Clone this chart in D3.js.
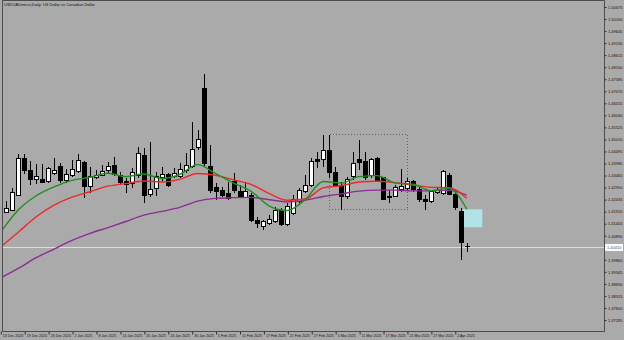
<!DOCTYPE html>
<html>
<head>
<meta charset="utf-8">
<script src="https://cdn.jsdelivr.net/npm/d3@7"></script>
<style>
  html, body { margin: 0; padding: 0; background: #aaaaaa; }
  svg { display: block; }
  text { font-family: "Liberation Sans", Arial, sans-serif; }
</style>
</head>
<body>
<svg id="chart"></svg>
<script>
// USDCADmicro daily bars, 13 Dec 2024 .. 4 Apr 2025
const dates = [
  "2024-12-13", "2024-12-16", "2024-12-17", "2024-12-18", "2024-12-19", "2024-12-20",
  "2024-12-23", "2024-12-24", "2024-12-26", "2024-12-27", "2024-12-30", "2024-12-31",
  "2025-01-02", "2025-01-03", "2025-01-06", "2025-01-07", "2025-01-08", "2025-01-09",
  "2025-01-10", "2025-01-13", "2025-01-14", "2025-01-15", "2025-01-16", "2025-01-17",
  "2025-01-20", "2025-01-21", "2025-01-22", "2025-01-23", "2025-01-24", "2025-01-27",
  "2025-01-28", "2025-01-29", "2025-01-30", "2025-01-31", "2025-02-03", "2025-02-04",
  "2025-02-05", "2025-02-06", "2025-02-07", "2025-02-10", "2025-02-11", "2025-02-12",
  "2025-02-13", "2025-02-14", "2025-02-17", "2025-02-18", "2025-02-19", "2025-02-20",
  "2025-02-21", "2025-02-24", "2025-02-25", "2025-02-26", "2025-02-27", "2025-02-28",
  "2025-03-03", "2025-03-04", "2025-03-05", "2025-03-06", "2025-03-07", "2025-03-10",
  "2025-03-11", "2025-03-12", "2025-03-13", "2025-03-14", "2025-03-17", "2025-03-18",
  "2025-03-19", "2025-03-20", "2025-03-21", "2025-03-24", "2025-03-25", "2025-03-26",
  "2025-03-27", "2025-03-28", "2025-03-31", "2025-04-01", "2025-04-02", "2025-04-03",
  "2025-04-04",
];
const opens = [
  1.4190, 1.4187, 1.4199, 1.4263, 1.4420, 1.4367, 1.4331, 1.4331, 1.4322, 1.4356,
  1.4387, 1.4324, 1.4346, 1.4363, 1.4403, 1.4298, 1.4339, 1.4348, 1.4366, 1.4391,
  1.4346, 1.4320, 1.4313, 1.4348, 1.4431, 1.4267, 1.4292, 1.4339, 1.4353, 1.4341,
  1.4341, 1.4366, 1.4384, 1.4467, 1.4720, 1.4387, 1.4294, 1.4281, 1.4270, 1.4320,
  1.4277, 1.4253, 1.4263, 1.4156, 1.4130, 1.4142, 1.4149, 1.4196, 1.4135, 1.4185,
  1.4234, 1.4277, 1.4306, 1.4416, 1.4416, 1.4453, 1.4358, 1.4306, 1.4255, 1.4341,
  1.4413, 1.4405, 1.4348, 1.4420, 1.4339, 1.4258, 1.4258, 1.4287, 1.4292, 1.4320,
  1.4287, 1.4246, 1.4234, 1.4273, 1.4270, 1.4348, 1.4267, 1.4192, 1.4044,
];
const highs = [
  1.4199, 1.4238, 1.4292, 1.4438, 1.4438, 1.4410, 1.4396, 1.4396, 1.4384, 1.4420,
  1.4401, 1.4373, 1.4413, 1.4438, 1.4410, 1.4384, 1.4370, 1.4391, 1.4405, 1.4424,
  1.4363, 1.4334, 1.4377, 1.4470, 1.4463, 1.4491, 1.4363, 1.4384, 1.4356, 1.4377,
  1.4399, 1.4444, 1.4577, 1.4541, 1.4781, 1.4477, 1.4313, 1.4298, 1.4320, 1.4356,
  1.4306, 1.4313, 1.4270, 1.4170, 1.4156, 1.4177, 1.4213, 1.4206, 1.4227, 1.4263,
  1.4292, 1.4348, 1.4420, 1.4448, 1.4520, 1.4520, 1.4384, 1.4320, 1.4341, 1.4448,
  1.4498, 1.4448, 1.4420, 1.4427, 1.4341, 1.4284, 1.4306, 1.4373, 1.4334, 1.4327,
  1.4298, 1.4263, 1.4284, 1.4298, 1.4370, 1.4358, 1.4284, 1.4206, 1.4056,
];
const lows = [
  1.4169, 1.4185, 1.4196, 1.4260, 1.4352, 1.4306, 1.4310, 1.4315, 1.4316, 1.4348,
  1.4316, 1.4316, 1.4339, 1.4356, 1.4249, 1.4273, 1.4330, 1.4344, 1.4356, 1.4344,
  1.4306, 1.4270, 1.4292, 1.4334, 1.4227, 1.4255, 1.4258, 1.4320, 1.4298, 1.4334,
  1.4334, 1.4356, 1.4377, 1.4456, 1.4384, 1.4270, 1.4242, 1.4255, 1.4242, 1.4270,
  1.4249, 1.4249, 1.4149, 1.4120, 1.4113, 1.4135, 1.4145, 1.4130, 1.4130, 1.4177,
  1.4227, 1.4270, 1.4298, 1.4377, 1.4384, 1.4334, 1.4298, 1.4201, 1.4244, 1.4327,
  1.4370, 1.4327, 1.4334, 1.4320, 1.4242, 1.4230, 1.4253, 1.4277, 1.4284, 1.4277,
  1.4234, 1.4201, 1.4227, 1.4267, 1.4263, 1.4263, 1.4199, 1.3985, 1.4020,
];
const closes = [
  1.4177, 1.4206, 1.4274, 1.4420, 1.4370, 1.4331, 1.4341, 1.4317, 1.4377, 1.4370,
  1.4324, 1.4353, 1.4374, 1.4410, 1.4298, 1.4341, 1.4348, 1.4363, 1.4384, 1.4352,
  1.4317, 1.4310, 1.4360, 1.4441, 1.4263, 1.4287, 1.4341, 1.4352, 1.4306, 1.4356,
  1.4373, 1.4391, 1.4456, 1.4501, 1.4399, 1.4284, 1.4277, 1.4263, 1.4249, 1.4281,
  1.4253, 1.4277, 1.4156, 1.4142, 1.4149, 1.4160, 1.4199, 1.4135, 1.4212, 1.4242,
  1.4284, 1.4303, 1.4405, 1.4407, 1.4453, 1.4358, 1.4306, 1.4258, 1.4330, 1.4399,
  1.4403, 1.4339, 1.4413, 1.4327, 1.4246, 1.4251, 1.4294, 1.4298, 1.4323, 1.4287,
  1.4245, 1.4234, 1.4277, 1.4284, 1.4363, 1.4267, 1.4210, 1.4059, 1.4041,
];

// moving averages, read every 3rd bar
const maIdx = [0, 3, 6, 9, 12, 15, 18, 21, 24, 27, 30, 33, 36, 39, 42, 45, 48, 51, 54, 57, 60, 63, 66, 69, 72, 75, 78];
const maFast = [
  1.4102, 1.4199, 1.4260, 1.4298, 1.4326, 1.4339, 1.4356, 1.4342, 1.4353, 1.4334,
  1.4351, 1.4393, 1.4355, 1.4314, 1.4278, 1.4216, 1.4197, 1.4244, 1.4321, 1.4314,
  1.4342, 1.4346, 1.4315, 1.4309, 1.4282, 1.4291, 1.4203,
];
const maMid = [
  1.4040, 1.4104, 1.4170, 1.4220, 1.4254, 1.4277, 1.4301, 1.4312, 1.4323, 1.4319,
  1.4330, 1.4355, 1.4347, 1.4328, 1.4308, 1.4269, 1.4241, 1.4246, 1.4294, 1.4303,
  1.4319, 1.4322, 1.4316, 1.4306, 1.4296, 1.4295, 1.4249,
];
const maSlow = [
  1.3908, 1.3949, 1.3995, 1.4032, 1.4069, 1.4099, 1.4124, 1.4150, 1.4177, 1.4193,
  1.4210, 1.4237, 1.4249, 1.4252, 1.4253, 1.4243, 1.4234, 1.4241, 1.4257, 1.4268,
  1.4280, 1.4284, 1.4284, 1.4281, 1.4281, 1.4283, 1.4263,
];

const yTickLabels = [
  1.50675, 1.50160, 1.49645, 1.49130, 1.48615, 1.48100, 1.47585, 1.47070, 1.46555,
  1.46040, 1.45525, 1.45010, 1.44495, 1.43980, 1.43465, 1.42950, 1.42435, 1.41920,
  1.41405, 1.40890, 1.40375, 1.39860, 1.39345, 1.38830, 1.38315, 1.37800, 1.37285,
];
const xTickDates = [
  "2024-12-13", "2024-12-19", "2024-12-26", "2025-01-02", "2025-01-08", "2025-01-14",
  "2025-01-20", "2025-01-24", "2025-01-30", "2025-02-05", "2025-02-11", "2025-02-17",
  "2025-02-21", "2025-02-27", "2025-03-05", "2025-03-11", "2025-03-17", "2025-03-21",
  "2025-03-27", "2025-04-02",
];

// chart objects: dotted box (bar index range + prices) and the cyan zone
const boxBars = [55, 68];
const boxPrices = [1.4523, 1.4202];
const zoneBars = [77.3, 80.6];
const zonePrices = [1.4202, 1.4125];

const title = "USDCADmicro,Daily:  US Dollar vs Canadian Dollar";

const width = 624;
const height = 340;
const plotRight = 604;
const plotBottom = 331;

const svg = d3.select("#chart").attr("width", width).attr("height", height);

svg.append("rect").attr("width", width).attr("height", height).attr("fill", "#aaaaaa");

// scales: one bar every ~6px, price axis like the terminal
const x = d3.scaleLinear().domain([0, 100]).range([0.3, 598.3]);
const y = d3.scaleLinear().domain([1.37285, 1.50675]).range([320, 7]);

svg.append("clipPath").attr("id", "plot")
  .append("rect").attr("x", 2).attr("y", 1).attr("width", plotRight - 2).attr("height", plotBottom - 1);

const plot = svg.append("g").attr("clip-path", "url(#plot)");

// dotted box
plot.append("rect")
  .attr("x", Math.round(x(boxBars[0])) + 0.5)
  .attr("y", Math.round(y(boxPrices[0])) + 0.5)
  .attr("width", Math.round(x(boxBars[1]) - x(boxBars[0])))
  .attr("height", Math.round(y(boxPrices[1]) - y(boxPrices[0])))
  .attr("fill", "none")
  .attr("stroke", "#666")
  .attr("stroke-width", 1)
  .attr("shape-rendering", "crispEdges")
  .attr("stroke-dasharray", "1,2");

// cyan zone
plot.append("rect")
  .attr("x", x(zoneBars[0]))
  .attr("y", y(zonePrices[0]))
  .attr("width", x(zoneBars[1]) - x(zoneBars[0]))
  .attr("height", y(zonePrices[1]) - y(zonePrices[0]))
  .attr("fill", "#b0e2e8");

// current price line
const last = closes[closes.length - 1];
const lastY = Math.round(y(last)) + 0.5;
plot.append("line")
  .attr("x1", 2).attr("x2", plotRight)
  .attr("y1", lastY).attr("y2", lastY)
  .attr("stroke", "#dcdcdc").attr("stroke-width", 1);

// candles
const bars = dates.map((d, i) => ({ i, o: opens[i], h: highs[i], l: lows[i], c: closes[i] }));
const candles = plot.append("g").attr("shape-rendering", "crispEdges");
const cg = candles.selectAll("g").data(bars).join("g");

cg.append("line")
  .attr("x1", (d) => Math.round(x(d.i)) + 0.5)
  .attr("x2", (d) => Math.round(x(d.i)) + 0.5)
  .attr("y1", (d) => y(d.h))
  .attr("y2", (d) => y(d.l))
  .attr("stroke", "#000");

cg.append("rect")
  .attr("x", (d) => Math.round(x(d.i)) - 1.5)
  .attr("y", (d) => y(Math.max(d.o, d.c)))
  .attr("width", 4)
  .attr("height", (d) => Math.max(0.5, Math.abs(y(d.o) - y(d.c))))
  .attr("fill", (d) => (d.c >= d.o ? "#ffffff" : "#000000"))
  .attr("stroke", "#000")
  .attr("stroke-width", 1);

// moving averages
const line = d3.line()
  .x((d) => x(d[0]))
  .y((d) => y(d[1]))
  .curve(d3.curveMonotoneX);

const maSeries = [
  { values: maSlow, color: "#8e2c95" },
  { values: maMid, color: "#f02828" },
  { values: maFast, color: "#1f8f1f" },
];
maSeries.forEach((s) => {
  plot.append("path")
    .attr("d", line(maIdx.map((b, k) => [b, s.values[k]])))
    .attr("fill", "none")
    .attr("stroke", s.color)
    .attr("stroke-width", 1.4);
});

// frame
svg.append("path")
  .attr("d", `M2.5,${plotBottom + 0.5} V0.5 H${plotRight + 0.5} V${plotBottom + 0.5} H2.5`)
  .attr("fill", "none")
  .attr("stroke", "#4d4d4d")
  .attr("stroke-width", 1);

// price axis
const fmt = d3.format(".5f");
const yAxis = d3.axisRight(y)
  .tickValues(yTickLabels.filter((v) => Math.abs(y(v) - y(last)) > 6))
  .tickSize(2)
  .tickSizeOuter(0)
  .tickPadding(1.5)
  .tickFormat(fmt);

const ya = svg.append("g")
  .attr("transform", `translate(${plotRight + 0.5},0)`)
  .call(yAxis);
ya.select(".domain").remove();
ya.selectAll("line").attr("stroke", "#333");
ya.selectAll("text").attr("font-size", 4).attr("fill", "#111").attr("font-family", "Liberation Sans, Arial, sans-serif");

// current price label
svg.append("rect")
  .attr("x", plotRight + 1).attr("y", lastY - 3.5)
  .attr("width", 18).attr("height", 7)
  .attr("fill", "#ffffff");
svg.append("text")
  .attr("x", plotRight + 3).attr("y", lastY + 1.5)
  .attr("font-size", 4)
  .attr("fill", "#555")
  .text(fmt(last));

// time axis
const parse = d3.timeParse("%Y-%m-%d");
const dfmt = d3.timeFormat("%-d %b %Y");
const xAxis = d3.axisBottom(x)
  .tickValues(xTickDates.map((d) => dates.indexOf(d)))
  .tickSize(3)
  .tickSizeOuter(0)
  .tickFormat((i) => dfmt(parse(dates[i])));

const xa = svg.append("g")
  .attr("transform", `translate(0.5,${plotBottom + 0.5})`)
  .call(xAxis);
xa.select(".domain").remove();
xa.selectAll("line").attr("stroke", "#333");
xa.selectAll("text")
  .attr("font-size", 3.6)
  .attr("fill", "#111")
  .attr("font-family", "Liberation Sans, Arial, sans-serif")
  .attr("text-anchor", "start")
  .attr("dx", 1.5)
  .attr("dy", -1);

// title
svg.append("text")
  .attr("x", 4).attr("y", 6)
  .attr("font-size", 4)
  .attr("fill", "#111")
  .text(title);
</script>
</body>
</html>
